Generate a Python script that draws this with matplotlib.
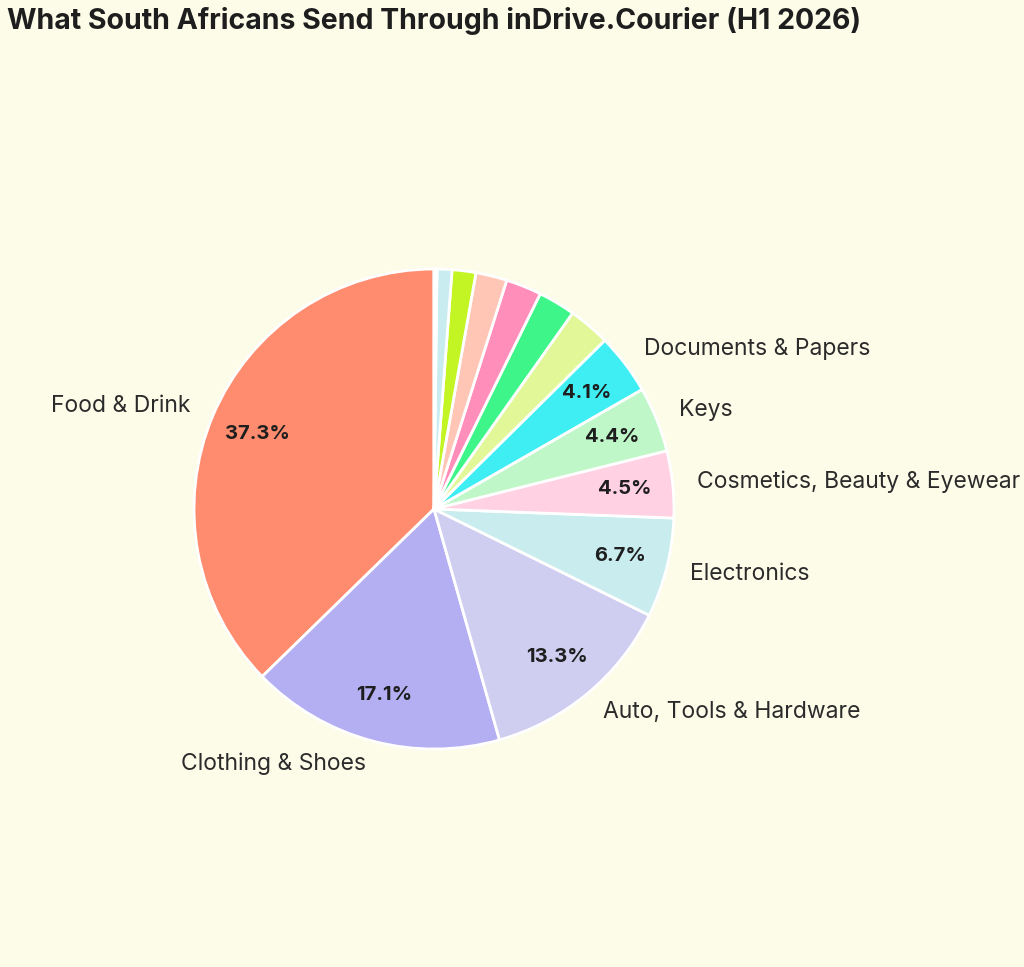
import matplotlib.pyplot as plt

# Data
categories = ['Food & Drink', 'Clothing & Shoes', 'Auto, Tools & Hardware', 'Electronics',
              'Cosmetics, Beauty & Eyewear', 'Keys', 'Documents & Papers',
              'Other 1', 'Other 2', 'Other 3', 'Other 4', 'Other 5', 'Other 6', 'Other 7']
shares = [37.3, 17.1, 13.3, 6.7, 4.5, 4.4, 4.1, 2.8, 2.5, 2.4, 2.1, 1.6, 1.0, 0.2]
colors = ['#FF8C6E', '#B3AFF2', '#CFCDF0', '#C9EDEF', '#FFD1E3', '#BFF7C9', '#3EEEF3',
          '#E2F798', '#3EF58A', '#FF8FBA', '#FFC6B6', '#C2F523', '#C8ECEF', '#FFF3E6']
label_min = 4.0

bg = '#FDFCE9'
plt.rcParams['font.family'] = ['Inter', 'DejaVu Sans']

fig = plt.figure(figsize=(10.24, 9.67), dpi=100, facecolor=bg)
ax = fig.add_axes([(434 - 240) / 1024, (458 - 240) / 967, 480 / 1024, 480 / 967])
ax.set_facecolor(bg)

labels = [c if s >= label_min else '' for c, s in zip(categories, shares)]

wedges, texts, autotexts = ax.pie(
    shares, labels=labels, colors=colors, startangle=90, counterclock=True,
    autopct=lambda p: f'{p:.1f}%' if p >= label_min else '',
    pctdistance=0.8, labeldistance=1.1,
    wedgeprops=dict(edgecolor='white', linewidth=2),
    textprops=dict(fontsize=16.5, color='#2b2b2b'))

for t in autotexts:
    t.set_fontweight('bold')
    t.set_fontsize(14.5)
    t.set_color('#1e1e1e')

ax.set_aspect('equal')
ax.set_xlim(-1, 1)
ax.set_ylim(-1, 1)

fig.text(0.007, 0.978, 'What South Africans Send Through inDrive.Courier (H1 2026)',
         fontsize=20.5, fontweight='bold', color='#1e1e1e', ha='left', va='center')

fig.savefig('out.png', dpi=100, facecolor=bg)
